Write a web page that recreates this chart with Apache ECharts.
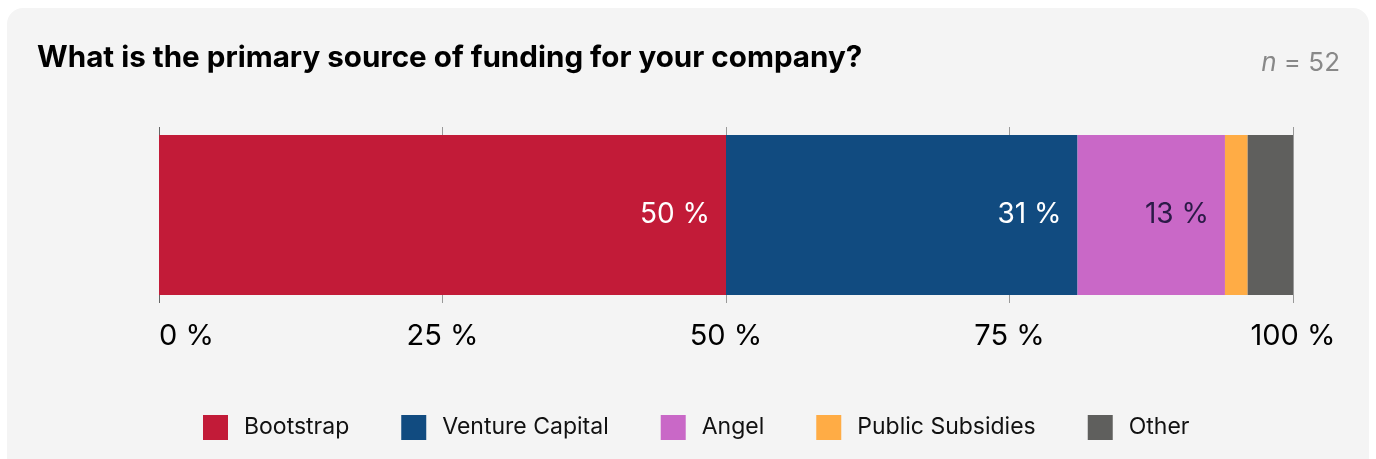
<!DOCTYPE html>
<html>
<head>
<meta charset="utf-8">
<script src="https://cdn.jsdelivr.net/npm/echarts@6/dist/echarts.min.js"></script>
<style>
  html, body { margin: 0; padding: 0; background: #ffffff; }
  #card {
    position: absolute; left: 7px; top: 8px; width: 1362px; height: 470px;
    background: #f4f4f4; border-radius: 16px;
  }
  #chart { position: absolute; left: 0; top: 0; width: 1376px; height: 459px; }
</style>
</head>
<body>
<div id="card"></div>
<div id="chart"></div>
<script>
// Survey: primary source of funding (share of respondents, %)
const categories = ['Funding'];
const seriesNames = ['Bootstrap', 'Venture Capital', 'Angel', 'Public Subsidies', 'Other'];
const seriesValues = [50, 31, 13, 2, 4];
const seriesColors = ['#c21b38', '#114b80', '#c968c7', '#ffac45', '#5f5f5d'];
const labelColors = ['#ffffff', '#ffffff', '#2b1a47', null, null];
const tickValues = [0, 25, 50, 75, 100];
const sampleSize = 52;

const FONT = 'Inter, "Noto Sans", sans-serif';

const chart = echarts.init(document.getElementById('chart'), null, { renderer: 'canvas' });

const series = seriesNames.map((name, i) => ({
  name: name,
  type: 'bar',
  stack: 'total',
  barWidth: 160,
  itemStyle: { color: seriesColors[i] },
  label: {
    show: labelColors[i] !== null,
    position: 'insideRight',
    distance: 16,
    formatter: p => p.value + ' %',
    color: labelColors[i] || '#fff',
    fontSize: 28,
    fontFamily: FONT,
    letterSpacing: -0.8
  },
  emphasis: { disabled: true },
  data: categories.map(() => seriesValues[i])
}));

chart.setOption({
  animation: false,
  backgroundColor: 'transparent',
  title: [
    {
      text: 'What is the primary source of funding for your company?',
      left: 32,
      top: 38,
      textStyle: { fontFamily: FONT, fontSize: 29.6, fontWeight: 700, color: '#000', letterSpacing: -1.4 }
    },
    {
      text: '{i|n} = ' + sampleSize,
      right: 31,
      top: 45,
      textStyle: {
        fontFamily: FONT, fontSize: 26, fontWeight: 400, color: '#888',
        rich: { i: { fontStyle: 'italic', fontFamily: FONT, fontSize: 26, color: '#888' } }
      }
    }
  ],
  grid: { left: 159, right: 83, top: 127, bottom: 156, containLabel: false },
  xAxis: {
    type: 'value',
    min: tickValues[0],
    max: tickValues[tickValues.length - 1],
    interval: 25,
    axisLine: { show: false },
    axisTick: { show: false },
    splitLine: { show: true, lineStyle: { color: ['#666', '#999', '#999', '#999', '#999'], width: 1 } },
    axisLabel: {
      margin: 19,
      formatter: v => v + ' %',
      color: '#000',
      fontSize: 29,
      fontFamily: FONT,
      letterSpacing: -0.8,
      alignMinLabel: 'left'
    }
  },
  yAxis: {
    type: 'category',
    data: categories,
    axisLine: { show: false },
    axisTick: { show: false },
    axisLabel: { show: false }
  },
  legend: {
    data: seriesNames,
    bottom: 14,
    left: 198,
    icon: 'rect',
    itemWidth: 25,
    itemHeight: 25,
    itemGap: 52,
    selectedMode: false,
    textStyle: { fontFamily: FONT, fontSize: 23, color: '#111', padding: [0, 0, 0, 11] }
  },
  series: series
});
</script>
</body>
</html>
